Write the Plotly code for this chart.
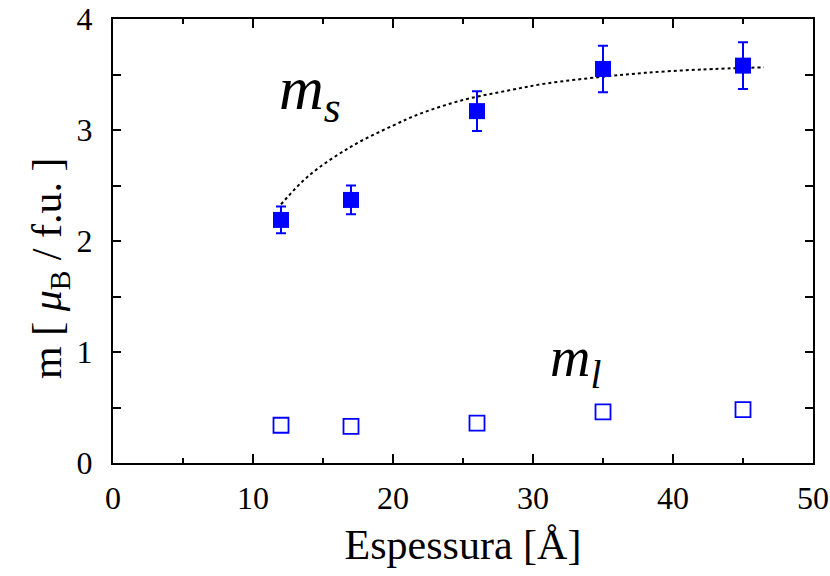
import plotly.graph_objects as go

# Film thickness (Angstrom)
thickness = [12, 17, 26, 35, 45]
# Spin moment m_s and its uncertainty
m_spin = [2.19, 2.37, 3.17, 3.55, 3.58]
m_spin_err = [0.12, 0.13, 0.18, 0.21, 0.21]
# Orbital moment m_l
m_orb = [0.34, 0.33, 0.36, 0.46, 0.48]

# Guide curve through the spin moment
guide_x = [12, 14, 17, 20, 22, 25, 28, 31, 35, 38, 42, 46.5]
guide_y = [2.33, 2.59, 2.85, 3.04, 3.15, 3.27, 3.35, 3.42, 3.48, 3.515, 3.545, 3.565]

x_ticks = [0, 10, 20, 30, 40, 50]
y_ticks = [0, 1, 2, 3, 4]

BLUE = "#0000ff"
FONT = "Liberation Serif"

W, H = 830, 576
ML, MR, MT, MB = 113, 17, 19, 113
plot_w = W - ML - MR
plot_h = H - MT - MB

fig = go.Figure()

fig.add_trace(go.Scatter(
    x=guide_x, y=guide_y, mode="lines",
    line=dict(color="black", width=2, dash="dot", shape="spline"),
    hoverinfo="skip", showlegend=False,
))

fig.add_trace(go.Scatter(
    x=thickness, y=m_spin, mode="markers",
    marker=dict(symbol="square", size=16, color=BLUE, line=dict(width=0)),
    error_y=dict(type="data", array=m_spin_err, visible=True,
                 color=BLUE, thickness=2, width=5),
    showlegend=False,
))

fig.add_trace(go.Scatter(
    x=thickness, y=m_orb, mode="markers",
    marker=dict(symbol="square-open", size=15, color=BLUE,
                line=dict(width=1.8, color=BLUE)),
    showlegend=False,
))

fig.add_annotation(x=14.1, y=3.34, xref="x", yref="y", showarrow=False,
                   text="<i>m<sub>s</sub></i>",
                   font=dict(family=FONT, size=62, color="black"))
fig.add_annotation(x=33.0, y=0.92, xref="x", yref="y", showarrow=False,
                   text="<i>m<sub>l</sub></i>",
                   font=dict(family=FONT, size=56, color="black"))

# y-axis title as a rotated annotation, centred at page pixel (50, 268)
fig.add_annotation(x=(50 - ML) / plot_w, y=(H - MB - 268) / plot_h,
                   xref="paper", yref="paper", xanchor="center", yanchor="middle",
                   showarrow=False, textangle=-90,
                   text="m [ <i>μ</i><sub>B</sub> / f.u. ]",
                   font=dict(family=FONT, size=42, color="black"))

axis_common = dict(
    showgrid=False, zeroline=False, showline=True, linecolor="black",
    linewidth=2, mirror="ticks", ticks="inside", tickcolor="black",
    tickwidth=1.5, automargin=False, ticklabeloverflow="allow",
    tickfont=dict(family=FONT, size=32, color="black"),
)

fig.update_xaxes(
    range=[0, 50], tickvals=x_ticks, ticklen=9, ticklabelstandoff=6,
    minor=dict(dtick=5, ticks="inside", ticklen=5, tickcolor="black", tickwidth=1.5),
    title=dict(text="Espessura [Å]", font=dict(family=FONT, size=42, color="black"),
               standoff=14),
    **axis_common,
)
fig.update_yaxes(
    range=[0, 4], tickvals=y_ticks, ticklen=8, ticklabelstandoff=12,
    minor=dict(dtick=0.5, ticks="inside", ticklen=8, tickcolor="black", tickwidth=1.5),
    **axis_common,
)

fig.update_layout(
    width=W, height=H,
    margin=dict(l=ML, r=MR, t=MT, b=MB),
    plot_bgcolor="white", paper_bgcolor="white",
)

fig.write_html("out.html")
